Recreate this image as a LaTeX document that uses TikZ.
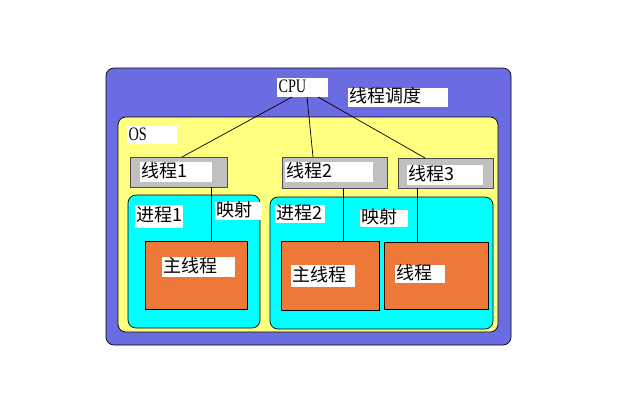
\documentclass[tikz,border=0pt]{standalone}
\usepackage{fontspec}
\newfontfamily\cjk{Noto Sans CJK SC}
\newfontfamily\lat[FakeStretch=0.75]{Liberation Serif}
\definecolor{bgblue}{RGB}{108,108,226}
\definecolor{osyellow}{RGB}{255,255,128}
\definecolor{pcyan}{RGB}{0,255,255}
\definecolor{thorange}{RGB}{238,120,56}
\definecolor{tgray}{RGB}{192,192,192}
\begin{document}
\begin{tikzpicture}[x=1pt,y=-1pt,
  box/.style 2 args={anchor=north west, inner sep=0pt, outer sep=0pt, draw=black, line width=0.7pt, minimum width=#1, minimum height=#2},
  lbl/.style 2 args={anchor=north west, inner ysep=0pt, inner xsep=1.5pt, outer sep=0pt, fill=white, text width=#1, minimum height=#2, text height=13pt, text depth=3pt, align=left, font=\cjk\fontsize{18}{18}\selectfont},
  latlbl/.style={font=\lat\fontsize{19}{19}\selectfont},
  wire/.style={draw=black, line width=0.7pt}]
\useasboundingbox (0,0) rectangle (636,408);
% containers
\node[box={405pt}{277pt}, fill=bgblue, rounded corners=8pt] (outer) at (106,68) {};
\node[box={380pt}{215pt}, fill=osyellow, rounded corners=8pt] (os) at (118,117) {};
% thread boxes
\node[box={97pt}{30pt}, fill=tgray, draw=gray!60!black] (t1) at (130,157) {};
\node[box={105pt}{31pt}, fill=tgray, draw=gray!60!black] (t2) at (282,157) {};
\node[box={95pt}{30pt}, fill=tgray, draw=gray!60!black] (t3) at (398,158) {};
% process boxes
\node[box={132pt}{133pt}, fill=pcyan, rounded corners=8pt] (p1) at (128,195) {};
\node[box={223pt}{132pt}, fill=pcyan, rounded corners=8pt] (p2) at (270,197) {};
% thread-in-process boxes
\node[box={102pt}{68pt}, fill=thorange] (m1) at (145,241) {};
\node[box={98pt}{69pt}, fill=thorange] (m2) at (281,241) {};
\node[box={104pt}{67pt}, fill=thorange] (m3) at (384,242) {};
% CPU label
\node[lbl={48pt}{19pt}, latlbl] (cpu) at (277,78) {CPU};
% scheduling lines
\draw[wire] ([xshift=-10.5pt]cpu.south) -- ([xshift=3.5pt]t1.north);
\draw[wire] ([xshift=4.5pt]cpu.south) -- ([xshift=-21.5pt]t2.north);
\draw[wire] ([xshift=15.5pt]cpu.south) -- ([xshift=-20.5pt]t3.north);
% mapping lines
\draw[wire] ([xshift=32.5pt]t1.south) -- ([xshift=15pt]m1.north);
\draw[wire] ([xshift=8.5pt]t2.south) -- ([xshift=13pt]m2.north);
\draw[wire] ([xshift=-28.5pt]t3.south) -- ([xshift=-19pt]m3.north);
% labels
\node[lbl={97pt}{19pt}] (sched) at (348,88) {线程调度};
\node[lbl={47pt}{18pt}, latlbl] (oslbl) at (127,126) {OS};
\node[lbl={69pt}{20pt}] (t1l) at (140,162) {线程1};
\node[lbl={85pt}{20pt}] (t2l) at (285,162) {线程2};
\node[lbl={73pt}{20pt}] (t3l) at (407,165) {线程3};
\node[lbl={45pt}{23pt}] (p1l) at (135,205) {进程1};
\node[lbl={44pt}{18pt}] (map1) at (215,202) {映射};
\node[lbl={47pt}{18pt}] (p2l) at (275,205) {进程2};
\node[lbl={45pt}{17pt}] (map2) at (360,210) {映射};
\node[lbl={70pt}{20pt}] (m1l) at (162,257) {主线程};
\node[lbl={61pt}{22pt}] (m2l) at (291,265) {主线程};
\node[lbl={47pt}{18pt}] (m3l) at (395,265) {线程};
\end{tikzpicture}
\end{document}
